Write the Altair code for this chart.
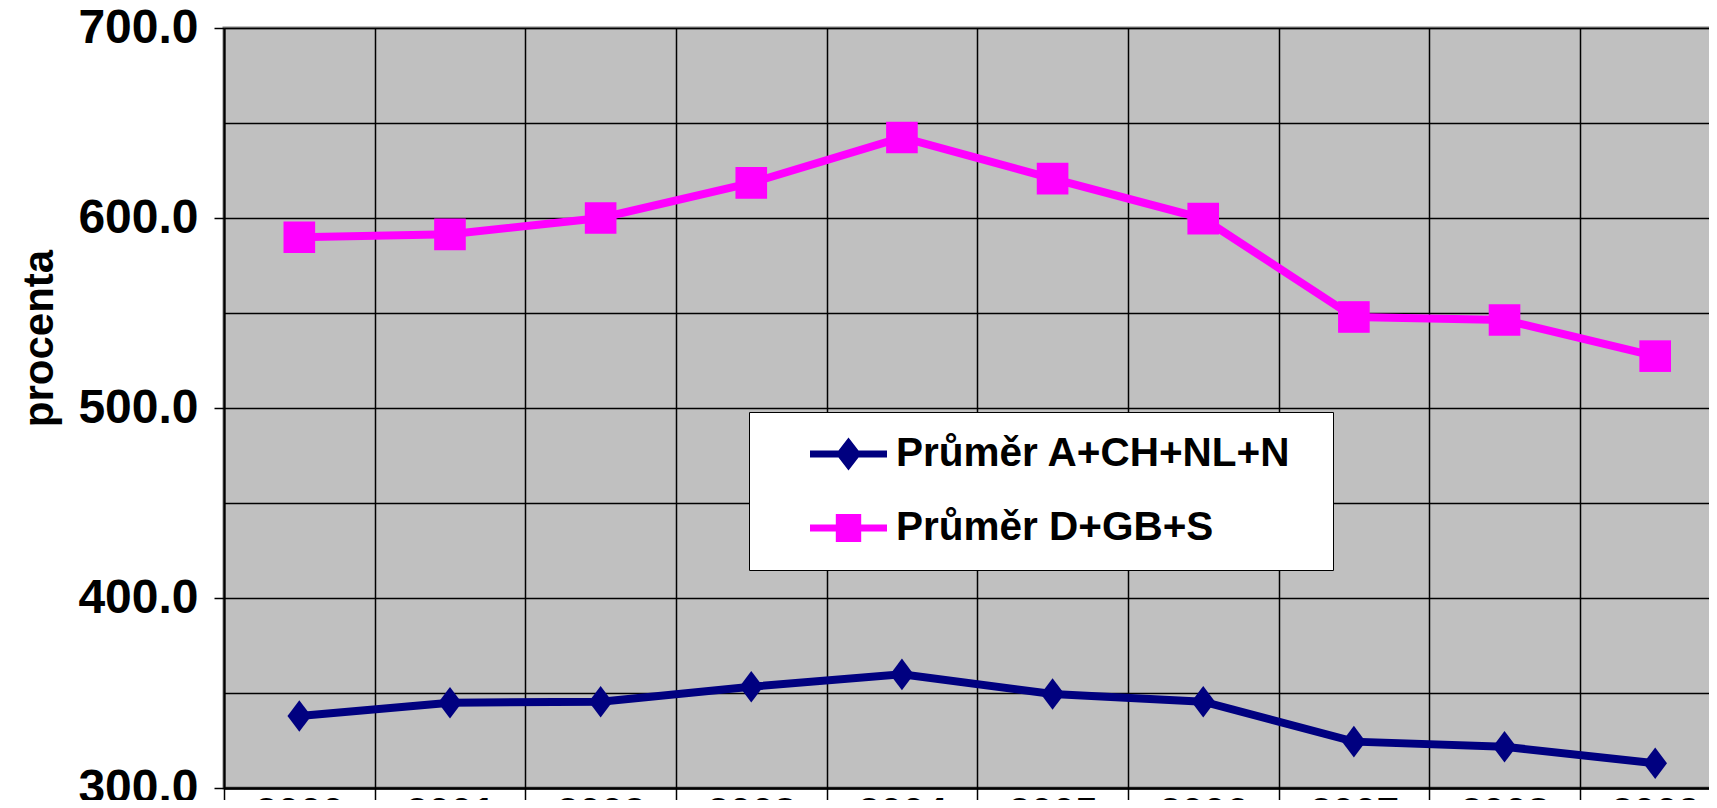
import altair as alt
import pandas as pd

years = ["2000", "2001", "2002", "2003", "2004", "2005", "2006", "2007", "2008", "2009"]
series_names = ["Průměr A+CH+NL+N", "Průměr D+GB+S"]
avg_a_ch_nl_n = [337.9, 344.9, 345.4, 353.3, 359.8, 349.5, 345.4, 324.4, 321.7, 313.0]
avg_d_gb_s = [589.9, 591.4, 600.0, 618.5, 642.4, 620.7, 599.7, 547.9, 546.3, 527.3]
colors = ["#000080", "#FF00FF"]
y_ticks = [300, 350, 400, 450, 500, 550, 600, 650, 700]

rows = []
for name, vals in zip(series_names, [avg_a_ch_nl_n, avg_d_gb_s]):
    for yr, v in zip(years, vals):
        rows.append({"year": yr, "series": name, "value": v})
df = pd.DataFrame(rows)

FONT = "Liberation Sans"

# marker shapes (slightly tall diamond like the original)
mark_diamond = "M-0.75,0L0,-1L0.75,0L0,1Z"

# legend symbols: line segment with marker (custom paths)
leg_diamond = ("M-0.2283,-0.055L0.9843,-0.055L0.9843,0.055L-0.2283,0.055Z"
               "M0.178,0L0.378,-0.26L0.578,0L0.378,0.26Z")
leg_square = ("M-0.2283,-0.055L0.9843,-0.055L0.9843,0.055L-0.2283,0.055Z"
              "M0.178,-0.22L0.578,-0.22L0.578,0.22L0.178,0.22Z")

x_enc = alt.X(
    "year:O",
    scale=alt.Scale(type="band", paddingInner=0, paddingOuter=0),
    axis=alt.Axis(
        title=None,
        tickBand="extent",
        grid=True,
        gridColor="#000000",
        gridWidth=1.5,
        domainColor="#000000",
        domainWidth=2.5,
        tickColor="#000000",
        tickWidth=1.5,
        tickSize=30,
        labelPadding=-25,
        labelFont=FONT,
        labelFontSize=40,
        labelFontWeight="bold",
        labelColor="#000000",
        labelAngle=0,
        labelBaseline="top",
    ),
)

y_enc = alt.Y(
    "value:Q",
    scale=alt.Scale(domain=[300, 700], nice=False, zero=False),
    axis=alt.Axis(
        title="procenta",
        values=y_ticks,
        labelExpr="datum.value % 100 == 0 ? format(datum.value, '.1f') : ''",
        grid=True,
        gridColor="#000000",
        gridWidth=1.5,
        domainColor="#000000",
        domainWidth=2,
        tickColor="#000000",
        tickWidth=1.5,
        tickSize=10,
        tickOpacity={"condition": {"test": "datum.value % 100 == 0", "value": 1}, "value": 0},
        labelPadding=16,
        labelFont=FONT,
        labelFontSize=48,
        labelFontWeight="bold",
        labelColor="#000000",
        titleFont=FONT,
        titleFontSize=42,
        titleFontWeight="bold",
        titleColor="#000000",
        titleX=-185,
        titleY=310,
        titleAlign="center",
        titleBaseline="middle",
        titleAngle=270,
    ),
)

base = alt.Chart(df)

lines = base.mark_line(strokeWidth=8).encode(
    x=x_enc,
    y=y_enc,
    color=alt.Color("series:N", scale=alt.Scale(domain=series_names, range=colors), legend=None),
)

points = base.mark_point(filled=True, opacity=1, size=1000).encode(
    x=x_enc,
    y=y_enc,
    color=alt.Color("series:N", scale=alt.Scale(domain=series_names, range=colors), legend=None),
    shape=alt.Shape("series:N", scale=alt.Scale(domain=series_names, range=[mark_diamond, "square"]), legend=None),
)

leg = alt.Legend(
    title=None,
    orient="none",
    legendX=525,
    legendY=384,
    fillColor="#FFFFFF",
    strokeColor="#000000",
    padding=12,
    rowPadding=14,
    clipHeight=60,
    symbolSize=16129,
    symbolStrokeWidth=0,
    symbolOpacity=1,
    labelOffset=8,
    labelFont=FONT,
    labelFontSize=40.5,
    labelFontWeight="bold",
    labelColor="#000000",
    labelLimit=0,
    labelExpr="datum.label + '\u2800'",
)

legend_layer = base.transform_filter("false").mark_point(filled=True, opacity=1, size=16129).encode(
    x=x_enc,
    y=y_enc,
    color=alt.Color("series:N", scale=alt.Scale(domain=series_names, range=colors), legend=leg),
    shape=alt.Shape("series:N", scale=alt.Scale(domain=series_names, range=[leg_diamond, leg_square]), legend=leg),
)

chart = (
    alt.layer(lines, points, legend_layer)
    .resolve_scale(color="independent", shape="independent")
    .resolve_legend(color="independent", shape="independent")
    .properties(
        width=1506.5,
        height=760,
        autosize=alt.AutoSizeParams(type="none"),
        padding={"left": 216, "top": 20, "right": -21.5, "bottom": 12},
        background="#FFFFFF",
    )
    .configure_view(fill="#C0C0C0", stroke="#808080", strokeWidth=3)
)

chart.save("out.html", embed_options={"renderer": "svg", "actions": False})
